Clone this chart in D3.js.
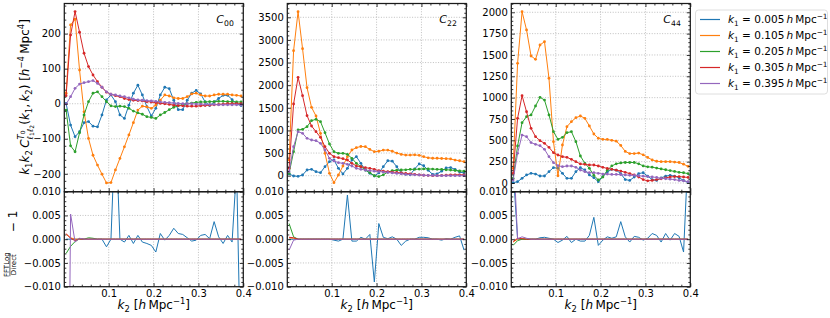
<!DOCTYPE html>
<html>
<head>
<meta charset="utf-8">
<script src="https://cdn.jsdelivr.net/npm/d3@7"></script>
<style>
body { margin: 0; background: #fff; }
svg { font-family: "DejaVu Sans", sans-serif; }
text { white-space: pre; }
</style>
</head>
<body>
<svg width="830" height="318"></svg>
<script>
var k2 = [0.005, 0.015, 0.025, 0.035, 0.045, 0.055, 0.065, 0.075, 0.085, 0.095,
  0.105, 0.115, 0.125, 0.135, 0.145, 0.155, 0.165, 0.175, 0.185, 0.195,
  0.205, 0.215, 0.225, 0.235, 0.245, 0.255, 0.265, 0.275, 0.285, 0.295,
  0.305, 0.315, 0.325, 0.335, 0.345, 0.355, 0.365, 0.375, 0.385, 0.395];

var k1Labels = ["0.005", "0.105", "0.205", "0.305", "0.395"];
var colors = ["#1f77b4", "#ff7f0e", "#2ca02c", "#d62728", "#9467bd"];

// k1 k2 C(k1,k2), one row per k1
var c00 = [
  [1, -61, -94, -80, -54, -51, -64, -66, -32, 11, 25, 6, -32, -42, -4, 30, 53, 25, -8, -35, -13, 25, 47, 43, 10, -17, -17, 10, 30, 38, 28, 5, -5, 5, 15, 24, 24, 12, 0, -5],
  [30, 225, 241, 96, -23, -99, -147, -175, -201, -226, -225, -189, -156, -123, -89, -54, -18, -7, -9, -13, -4, 10, 25, 22, 17, 15, 15, 20, 28, 30, 25, 22, 22, 25, 27, 27, 27, 25, 24, 22],
  [-18, -120, -137, -83, -32, 6, 30, 34, 20, 6, -6, -8, -7, -8, -13, -21, -26, -30, -37, -39, -42, -32, -25, -17, -10, -6, -2, 0, 2, 4, 5, 5, 6, 6, 7, 7, 6, 6, 5, 5],
  [23, 196, 263, 204, 144, 106, 82, 63, 47, 33, 27, 23, 20, 15, 12, 10, 9, 8, 6, 5, 3, 1, 0, -2, -4, -5, -6, -7, -7, -7, -6, -5, -4, -3, -2, -1, 0, 0, 0, 0],
  [-1, 20, 44, 56, 60, 63, 66, 58, 47, 34, 27, 25, 22, 20, 17, 13, 11, 10, 9, 8, 7, 5, 4, 3, 2, 1, 0, 0, 0, -1, -1, -2, -2, -2, -3, -3, -3, -3, -3, -3]
];
var c22 = [
  [38, -7, -15, 15, 126, 141, 88, 66, 199, 309, 347, 163, 38, 163, 347, 420, 274, 126, 53, -7, 60, 200, 330, 320, 200, 60, 30, 20, 150, 260, 220, 120, 30, 40, 100, 170, 180, 140, 80, 60],
  [347, 2762, 3624, 2806, 1944, 1511, 1319, 937, 495, 53, -155, 15, 214, 420, 568, 620, 645, 640, 580, 530, 540, 565, 565, 540, 500, 470, 455, 455, 460, 450, 420, 395, 385, 385, 380, 375, 370, 345, 330, 310],
  [53, 530, 1010, 1025, 1083, 1215, 1246, 1193, 950, 700, 530, 495, 495, 473, 384, 274, 199, 126, 66, 0, -20, 20, 80, 110, 120, 125, 130, 140, 140, 145, 150, 150, 145, 140, 140, 130, 125, 115, 105, 100],
  [163, 1584, 2174, 1767, 1326, 1098, 972, 848, 641, 495, 420, 398, 376, 347, 274, 214, 199, 177, 163, 141, 110, 100, 90, 80, 70, 60, 50, 40, 30, 20, 10, 5, 0, 0, 5, 10, 15, 20, 20, 20],
  [88, 641, 972, 937, 826, 789, 773, 716, 568, 384, 325, 287, 274, 252, 214, 163, 141, 126, 110, 100, 90, 80, 70, 60, 50, 40, 30, 25, 20, 15, 10, 5, 5, 0, 0, 0, 0, 0, 0, 0]
];
var c44 = [
  [4, 15, 55, 94, 113, 105, 82, 82, 133, 180, 172, 113, 55, 55, 133, 180, 152, 94, 62, 15, 74, 130, 160, 150, 110, 40, 30, 70, 110, 120, 80, 40, 30, 60, 80, 90, 80, 60, 30, 10],
  [172, 1402, 2007, 1793, 1488, 1449, 1617, 1656, 1227, 484, 85, 445, 660, 718, 765, 785, 758, 668, 574, 524, 512, 510, 500, 490, 440, 370, 345, 345, 350, 330, 300, 270, 255, 250, 250, 250, 245, 240, 220, 195],
  [55, 434, 707, 777, 797, 902, 1004, 972, 797, 601, 512, 535, 590, 601, 484, 316, 231, 172, 90, 35, 70, 150, 200, 225, 235, 240, 240, 240, 225, 200, 190, 185, 175, 165, 155, 145, 135, 125, 120, 110],
  [113, 758, 1023, 835, 641, 543, 496, 465, 418, 355, 328, 308, 301, 277, 250, 223, 219, 211, 211, 199, 184, 170, 160, 150, 140, 125, 110, 95, 70, 40, 25, 30, 40, 50, 60, 70, 75, 75, 70, 65],
  [35, 348, 562, 543, 473, 453, 437, 395, 308, 238, 203, 191, 199, 199, 184, 152, 133, 121, 121, 113, 105, 105, 100, 100, 98, 95, 90, 90, 85, 80, 75, 70, 65, 55, 50, 45, 40, 30, 25, 15]
];

// FFTLog / Direct - 1
var r00 = [
  [0, 0, 0, 0, 0, 0, 0, 0, 0, -0.0016, 0, 0.025, 0, -0.0006, 0.0008, -0.0009, 0.0008, -0.0006, -0.0009, -0.0013, -0.0027, 0.0012, -0.0002, 0.0008, 0.0023, 0.0012, 0.001, 0.0003, -0.0004, -0.0002, 0.0008, 0.001, 0.0001, 0.0037, 0.0005, -0.0009, 0.0008, -0.0006, 0.015, -0.031],
  [0.001, 0.0003, 0, 0, 0, 0, 0, 0, 0, 0, 0, 0, 0, 0, 0, 0, 0, 0, 0, 0, 0, 0, 0, 0, 0, 0, 0, 0, 0, 0, 0, 0, 0, 0, 0, 0, 0, 0, 0, 0],
  [-0.003, -0.0015, -0.0005, 0.0001, 0, 0.0003, 0.0002, 0, 0, 0, 0, 0, 0, 0, 0, 0, 0, 0, 0, 0, 0, 0, 0, 0, 0, 0, 0, 0, 0, 0, 0, 0, 0, 0, 0, 0, 0, 0, 0, 0],
  [0.0012, 0.0002, -0.0003, 0.0001, 0, 0, 0, 0, 0, 0, 0, 0, 0, 0, 0, 0, 0, 0, 0, 0, 0, 0, 0, 0, 0, 0, 0, 0, 0, 0, 0, 0, 0, 0, 0, 0, 0, 0, 0, 0],
  [-0.1, 0.0053, -0.0006, 0.0002, 0, 0, 0, 0, 0, 0, 0, 0, 0, 0, 0, 0, 0, 0, 0, 0, 0, 0, 0, 0, 0, 0, 0, 0, 0, 0, 0, 0, 0, 0, 0, 0, 0, 0, 0, 0]
];
var r22 = [
  [0, 0, 0, 0, 0, 0, 0, 0, 0, 0, -0.0002, -0.0004, 0, 0.0093, -0.0004, -0.0004, 0.0004, 0, 0.001, -0.009, 0.0033, 0.0004, 0.0001, 0.0005, 0, -0.0013, -0.0004, 0, 0, 0.0004, 0.0004, 0.0003, 0, 0, -0.0002, 0.0001, 0, 0.0004, 0.0007, -0.0023],
  [0.0003, 0.0002, 0, 0, 0, 0, 0, 0, 0, 0, 0, 0, 0, 0, 0, 0, 0, 0, 0, 0, 0, 0, 0, 0, 0, 0, 0, 0, 0, 0, 0, 0, 0, 0, 0, 0, 0, 0, 0, 0],
  [0.0033, 0.0005, 0, 0, 0, 0, 0, 0, 0, 0, 0, 0, 0, 0, 0, 0, 0, 0, 0, 0, 0, 0, 0, 0, 0, 0, 0, 0, 0, 0, 0, 0, 0, 0, 0, 0, 0, 0, 0, 0],
  [0.0004, 0.0003, 0, 0, 0, 0, 0, 0, 0, 0, 0, 0, 0, 0, 0, 0, 0, 0, 0, 0, 0, 0, 0, 0, 0, 0, 0, 0, 0, 0, 0, 0, 0, 0, 0, 0, 0, 0, 0, 0],
  [-0.0023, -0.0002, 0, 0, 0, 0, 0, 0, 0, 0, 0, 0, 0, 0, 0, 0, 0, 0, 0, 0, 0, 0, 0, 0, 0, 0, 0, 0, 0, 0, 0, 0, 0, 0, 0, 0, 0, 0, 0, 0]
];
var r44 = [
  [0.015, 0, 0, 0, 0, 0, 0.0003, 0.0004, 0.0002, 0, -0.0007, -0.0002, 0.0006, -0.0007, 0, -0.0004, -0.0004, 0.0008, 0.0046, -0.0013, -0.0002, 0.0005, 0.0002, 0.0005, 0.0037, 0.0005, -0.0006, 0.0006, 0.0004, -0.0002, 0.0002, 0.0012, 0.0008, -0.0006, 0.0012, -0.0002, 0.0012, 0.0006, -0.0027, 0.018],
  [-0.0006, 0, 0.0001, 0, 0, 0, 0, 0, 0, 0, 0, 0, 0, 0, 0, 0, 0, 0, 0, 0, 0, 0, 0, 0, 0, 0, 0, 0, 0, 0, 0, 0, 0, 0, 0, 0, 0, 0, 0, 0],
  [-0.0013, -0.0003, 0, 0, 0, 0, 0, 0, 0, 0, 0, 0, 0, 0, 0, 0, 0, 0, 0, 0, 0, 0, 0, 0, 0, 0, 0, 0, 0, 0, 0, 0, 0, 0, 0, 0, 0, 0, 0, 0],
  [-0.0005, 0.0002, 0.0001, 0, 0, 0, 0, 0, 0, 0, 0, 0, 0, 0, 0, 0, 0, 0, 0, 0, 0, 0, 0, 0, 0, 0, 0, 0, 0, 0, 0, 0, 0, 0, 0, 0, 0, 0, 0, 0],
  [0.02, 0.0001, 0.0005, 0.0002, 0, 0, 0, 0, 0, 0, 0, 0, 0, 0, 0, 0, 0, 0, 0, 0, 0, 0, 0, 0, 0, 0, 0, 0, 0, 0, 0, 0, 0, 0, 0, 0, 0, 0, 0, 0]
];

var xTicks = [0.1, 0.2, 0.3, 0.4];
var xMinor = [0.02, 0.04, 0.06, 0.08, 0.12, 0.14, 0.16, 0.18, 0.22, 0.24, 0.26, 0.28, 0.32, 0.34, 0.36, 0.38];
var resTicks = [-0.01, -0.005, 0, 0.005, 0.01];

var svg = d3.select("svg");

var yTop = 3.5, yMid = 191.7, yBot = 286.7;
var cols = [[64.3, 243.3], [287.3, 466.3], [511.3, 690.3]];

var panels = [
  {name: "00", top: c00, res: r00, dom: [-251, 286], ticks: d3.range(-200, 201, 100), minor: d3.range(-240, 281, 20)},
  {name: "22", top: c22, res: r22, dom: [-354, 3805], ticks: d3.range(0, 3501, 500), minor: d3.range(-300, 3801, 100)},
  {name: "44", top: c44, res: r44, dom: [-102, 2103], ticks: d3.range(0, 2001, 250), minor: d3.range(-100, 2101, 50)}
];

// mathtext-ish rich text with tspans
function rich(text, parts, fs) {
  var cur = 0;
  parts.forEach(function(p) {
    var off = fs * (p.o || 0);
    text.append("tspan")
      .attr("dy", off - cur)
      .attr("dx", p.dx ? p.dx * fs : null)
      .style("font-size", fs * (p.s || 1) + "px")
      .style("font-style", p.i ? "italic" : "normal")
      .text(p.t);
    cur = off;
  });
}

function frame(x, y, yt) {
  var g = svg.append("g");
  var r = y.range(), xr = x.range();

  g.selectAll(".gx").data(xTicks.slice(0, 3)).enter().append("line")
    .attr("x1", x).attr("x2", x).attr("y1", r[0]).attr("y2", r[1])
    .attr("stroke", "#b0b0b0").attr("stroke-width", 0.8).attr("stroke-dasharray", "1,1.6");
  g.selectAll(".gy").data(yt).enter().append("line")
    .attr("x1", xr[0]).attr("x2", xr[1]).attr("y1", y).attr("y2", y)
    .attr("stroke", "#b0b0b0").attr("stroke-width", 0.8).attr("stroke-dasharray", "1,1.6");
}

function axes(x, y, yt, ym, yfmt, xlab) {
  var g = svg.append("g");
  var r = y.range(), xr = x.range();
  var dom = y.domain();
  ym = ym.filter(function(d) { return d > dom[0] && d < dom[1] && yt.indexOf(d) < 0; });

  g.append("g").attr("transform", "translate(" + xr[0] + ",0)")
    .call(d3.axisLeft(y).tickValues(yt).tickSize(-3.5).tickPadding(3.5).tickFormat(yfmt));
  g.append("g").attr("transform", "translate(" + xr[0] + ",0)")
    .call(d3.axisLeft(y).tickValues(ym).tickSize(-2).tickFormat(""));
  g.append("g").attr("transform", "translate(" + xr[1] + ",0)")
    .call(d3.axisRight(y).tickValues(yt).tickSize(-3.5).tickFormat(""));
  g.append("g").attr("transform", "translate(" + xr[1] + ",0)")
    .call(d3.axisRight(y).tickValues(ym).tickSize(-2).tickFormat(""));
  g.append("g").attr("transform", "translate(0," + r[0] + ")")
    .call(d3.axisBottom(x).tickValues(xTicks).tickSize(-3.5).tickPadding(3.5)
      .tickFormat(xlab ? d3.format(".1f") : ""));
  g.append("g").attr("transform", "translate(0," + r[0] + ")")
    .call(d3.axisBottom(x).tickValues(xMinor).tickSize(-2).tickFormat(""));
  g.append("g").attr("transform", "translate(0," + r[1] + ")")
    .call(d3.axisTop(x).tickValues(xTicks).tickSize(-3.5).tickFormat(""));
  g.append("g").attr("transform", "translate(0," + r[1] + ")")
    .call(d3.axisTop(x).tickValues(xMinor).tickSize(-2).tickFormat(""));

  g.selectAll(".domain").remove();
  g.selectAll(".tick line").attr("stroke", "#000").attr("stroke-width", 0.8);
  g.selectAll("g").attr("font-family", "DejaVu Sans").attr("font-size", 10);
  g.selectAll(".tick text").attr("fill", "#000");

  g.append("rect")
    .attr("x", xr[0]).attr("y", r[1])
    .attr("width", xr[1] - xr[0]).attr("height", r[0] - r[1])
    .attr("fill", "none").attr("stroke", "#1a1a1a").attr("stroke-width", 1.25);
}

panels.forEach(function(p, pi) {
  var c = cols[pi];
  var x = d3.scaleLinear().domain([0.001, 0.4]).range(c);
  var yT = d3.scaleLinear().domain(p.dom).range([yMid, yTop]);
  var yB = d3.scaleLinear().domain([-0.01, 0.01]).range([yBot, yMid]);

  frame(x, yT, p.ticks);
  frame(x, yB, resTicks);

  var clipT = "clipT" + pi, clipB = "clipB" + pi;
  svg.append("clipPath").attr("id", clipT).append("rect")
    .attr("x", c[0]).attr("y", yTop).attr("width", c[1] - c[0]).attr("height", yMid - yTop);
  svg.append("clipPath").attr("id", clipB).append("rect")
    .attr("x", c[0]).attr("y", yMid).attr("width", c[1] - c[0]).attr("height", yBot - yMid);

  var lineT = d3.line().x(function(d, i) { return x(k2[i]); }).y(function(d) { return yT(d); });
  var lineB = d3.line().x(function(d, i) { return x(k2[i]); }).y(function(d) { return yB(d); });

  var gt = svg.append("g").attr("clip-path", "url(#" + clipT + ")");
  p.top.forEach(function(s, si) {
    gt.append("path").attr("d", lineT(s))
      .attr("fill", "none").attr("stroke", colors[si]).attr("stroke-width", 1);
    gt.selectAll(".m" + si).data(s).enter().append("circle")
      .attr("cx", function(d, i) { return x(k2[i]); })
      .attr("cy", function(d) { return yT(d); })
      .attr("r", 1.4)
      .attr("fill", colors[si]);
  });

  var gb = svg.append("g").attr("clip-path", "url(#" + clipB + ")");
  p.res.forEach(function(s, si) {
    gb.append("path").attr("d", lineB(s))
      .attr("fill", "none").attr("stroke", colors[si]).attr("stroke-width", 1);
  });

  axes(x, yT, p.ticks, p.minor, d3.format("d"), false);
  axes(x, yB, resTicks, d3.range(-0.009, 0.0095, 0.001).map(function(d) { return +d.toFixed(3); }), d3.format(".3f"), true);

  rich(svg.append("text").attr("x", c[1] - 9.5).attr("y", 23).attr("text-anchor", "end"),
    [{t: "C", i: 1}, {t: p.name, s: 0.7, o: 0.25}], 11);

  rich(svg.append("text").attr("x", (c[0] + c[1]) / 2).attr("y", 309).attr("text-anchor", "middle"),
    [{t: "k", i: 1}, {t: "2", s: 0.7, o: 0.25}, {t: " [", o: 0}, {t: "h", i: 1}, {t: "\u2009Mpc"},
     {t: "\u22121", s: 0.7, o: -0.4}, {t: "]", o: 0}], 12);
});

// y labels
rich(svg.append("text").attr("text-anchor", "middle").attr("transform", "translate(29,97) rotate(-90)"),
  [{t: "k", i: 1}, {t: "1", s: 0.7, o: 0.25}, {t: "k", i: 1, o: 0}, {t: "2", s: 0.7, o: 0.25},
   {t: "\u2009C", i: 1, o: 0}, {t: "T", i: 1, s: 0.7, o: -0.45}, {t: "0", s: 0.5, o: -0.35},
   {t: "\u2113", i: 1, s: 0.7, o: 0.3, dx: -0.74}, {t: "1", s: 0.5, o: 0.42},
   {t: "\u2113", i: 1, s: 0.7, o: 0.3}, {t: "2", s: 0.5, o: 0.42},
   {t: "(", o: 0}, {t: "k", i: 1}, {t: "1", s: 0.7, o: 0.25}, {t: ",\u2009", o: 0},
   {t: "k", i: 1}, {t: "2", s: 0.7, o: 0.25}, {t: ")", o: 0}, {t: " [", o: 0},
   {t: "h", i: 1}, {t: "\u22124", s: 0.7, o: -0.4}, {t: "\u2009Mpc", o: 0},
   {t: "4", s: 0.7, o: -0.4}, {t: "]", o: 0}], 12);

var fl = svg.append("g").attr("transform", "translate(0,239.2) rotate(-90)");
fl.append("text").attr("x", -25.5).attr("y", 8.6).attr("text-anchor", "middle")
  .style("font-size", "7px").text("FFTLog");
fl.append("line").attr("x1", -37).attr("x2", -14).attr("y1", 9.9).attr("y2", 9.9)
  .attr("stroke", "#000").attr("stroke-width", 0.6);
fl.append("text").attr("x", -25.5).attr("y", 15.6).attr("text-anchor", "middle")
  .style("font-size", "7px").text("Direct");
fl.append("text").attr("x", 7).attr("y", 17.3).style("font-size", "12px").text("\u2212 1");

// legend
var lg = svg.append("g");
lg.append("rect").attr("x", 695.5).attr("y", 10).attr("width", 132).attr("height", 84)
  .attr("rx", 3).attr("fill", "#fff").attr("fill-opacity", 0.8)
  .attr("stroke", "#d5d5d5").attr("stroke-width", 0.8);
k1Labels.forEach(function(lab, j) {
  var yy = 19.5 + 16 * j;
  lg.append("path").attr("d", "M700," + yy + "H720")
    .attr("fill", "none").attr("stroke", colors[j]).attr("stroke-width", 1.2);
  rich(lg.append("text").attr("x", 728).attr("y", yy + 3.7),
    [{t: "k", i: 1}, {t: "1", s: 0.7, o: 0.25}, {t: " = " + lab + "\u2009", o: 0},
     {t: "h", i: 1}, {t: "\u2009Mpc"}, {t: "\u22121", s: 0.7, o: -0.4}], 10.5);
});
</script>
</body>
</html>
